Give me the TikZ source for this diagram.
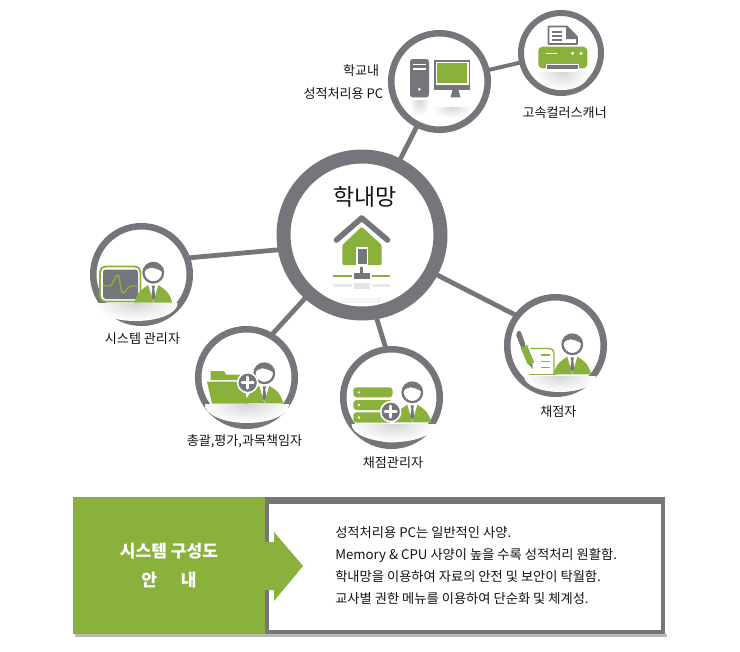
\documentclass[tikz,border=0pt]{standalone}
\usepackage{fontspec}
\setmainfont{Noto Sans CJK KR}
\definecolor{leaf}{RGB}{138,177,60}
\definecolor{ringgray}{RGB}{117,118,123}
\tikzset{
    lab/.style={
        text=black!92, font=\fontsize{9.8}{12}\selectfont, inner sep=0pt
    },
    ring/.style={
        circle, draw=ringgray, fill=white, line width=4.9pt, minimum size=72.4pt, inner sep=0pt
    },
    link/.style={
        draw=ringgray, line width=3.6pt, shorten <=-1pt, shorten >=-1pt
    },
    person/.pic={
        \fill[leaf] (-19,30) .. controls (-16,19) and (-11,16) .. (-5,12.5) -- (0,30) -- (5,12.5)
            .. controls (11,16) and (16,19) .. (19,30) -- cycle;
        \fill[ringgray] (-1.8,13) -- (1.8,13) -- (0.9,16) -- (2,24) -- (0,28) -- (-2,24) -- (-0.9,16) -- cycle;
        \draw[ringgray, line width=1.7pt, fill=white] (0,0) circle (9.8);
        \fill[ringgray] (-9.8,0) arc (180:360:9.8) .. controls (7,-3) and (2,-4.5) .. (-2,-5) .. controls (-5,-5) and (-8,-3) .. cycle;
    },
    plusbadge/.pic={
        \draw[white, line width=1.2pt, fill=ringgray] (0,0) circle (10);
        \draw[white, line width=2.2pt] (-5.5,0) -- (5.5,0) (0,-5.5) -- (0,5.5);
    }
}
% soft reflection: centre x, top y, half width, height
\newcommand{\reflband}[4]{
    \begin{scope}
        \clip (#1-#3,#2) rectangle (#1+#3,#2+#4);
        \shade[inner color=black!16, outer color=white] (#1,#2) ellipse [x radius=#3, y radius=#4];
    \end{scope}
}

\begin{document}
\begin{tikzpicture}[x=0.75pt,y=-0.75pt,line cap=round,line join=round]
    \useasboundingbox (0,0) rectangle (740,651);

% --- circles ---
    \node[ring, line width=10.5pt, minimum size=117.75pt] (hub) at (362,235) {};
    \node[ring] (pcnode) at (439.5,81.5) {};
    \node[ring, line width=4.5pt, minimum size=60pt] (scanner) at (561,53) {};
    \node[ring] (sysadmin) at (141.5,274.5) {};
    \node[ring] (chief) at (246.5,377.5) {};
    \node[ring] (markadmin) at (391.5,397.5) {};
    \node[ring] (marker) at (555.5,345.5) {};

% --- connectors ---
    \draw[link] (hub) -- (pcnode);
    \draw[link, line width=3pt] (pcnode) -- (scanner);
    \draw[link] (hub.190.8) -- (sysadmin.19.8);
    \draw[link] (hub.228.8) -- (chief.59);
    \draw[link] (hub.280) -- (markadmin.97);
    \draw[link] (hub.332) -- (marker.143);

% --- hub: title and house ---
    \node[lab, font=\fontsize{17.2}{20}\selectfont] (hubtitle) at (365,197) {학내망};
    \draw[ringgray, line width=4.2pt] (336.5,240) -- (361.7,218) -- (387.5,240);
    \fill[leaf, rounded corners=1pt] (361.7,226.7) -- (381.7,245) -- (381.7,265) -- (342.3,265) -- (342.3,245) -- cycle;
    \fill[ringgray, draw=white, line width=0.8pt] (357,248) rectangle (367.5,265);
    \draw[leaf, line width=2.2pt, line cap=butt] (333.3,276) -- (351.7,276) (372.3,276) -- (390,276);
    \fill[ringgray] (354,272.7) rectangle (370,279.3);
    \draw[ringgray, line width=2pt, line cap=butt] (361.7,266.5) -- (361.7,273);
    % reflection of the network bar
    \draw[black!9, line width=2.2pt, line cap=butt] (333.3,285.7) -- (351.7,285.7) (372.3,285.7) -- (390,285.7);
    \fill[black!10] (354,282.5) rectangle (370,289);
    \fill[black!4] (341,298) rectangle (381,303);

% --- computer ---
    \fill[ringgray, rounded corners=2pt] (410,59) rectangle (429,97.3);
    \draw[white, line width=0.8pt, line cap=butt] (413,64.3) -- (426,64.3) (413,69) -- (426,69);
    \fill[white] (419.3,89.3) circle (1.4);
    \fill[ringgray] (434.3,60) rectangle (470,90);
    \fill[white] (436,61.5) rectangle (468.5,84.5);
    \fill[leaf] (437.3,62.7) rectangle (466.7,83.3);
    \fill[ringgray] (452.5,90) -- (458.5,90) -- (460.5,97.3) -- (450.5,97.3) -- cycle;
    \reflband{419.5}{100}{11}{17}
    \reflband{452}{107}{20}{11}

% --- scanner ---
    \draw[ringgray, line width=1.3pt, fill=white] (548.5,26.5) -- (567,26.5) -- (577,37) -- (577,44) -- (548.5,44) -- cycle;
    \fill[ringgray] (566,26) -- (578,39) -- (566,39) -- cycle;
    \draw[ringgray, line width=1.2pt, line cap=butt] (552,32) -- (562,32) (552,36) -- (562,36) (552,40) -- (562,40);
    \fill[leaf, rounded corners=3pt] (538.3,46.7) rectangle (587.3,68.3);
    \draw[white, line width=1.2pt, line cap=butt] (545.7,53.3) -- (556.7,53.3);
    \fill[white] (572.7,53.3) circle (1.7) (581,53.3) circle (1.7);
    \fill[white] (546,63.5) rectangle (579,72);
    \fill[ringgray] (547,65) rectangle (578,68.5);
    \reflband{562.5}{72}{27}{18}

% --- system manager ---
    \draw[leaf, line width=1.4pt, fill=white, rounded corners=4pt] (100,266.5) rectangle (140.5,301.5);
    \fill[ringgray, rounded corners=2pt] (103,269.5) rectangle (138,299);
    \draw[leaf, line width=1pt] (103,286) -- (110,286) .. controls (113,286) and (115,274) .. (118,275)
        .. controls (120,276) and (120,292) .. (123,293) .. controls (126,293) and (127,286) .. (132,286) -- (138,286);
    \pic at (153.3,272.7) {person};
    \reflband{135.5}{303.5}{42}{17.5}

% --- chief ---
    \fill[leaf] (210.7,371) -- (224,371) -- (226,374.5) -- (240,374.5) -- (240,380) -- (210.7,380) -- cycle;
    \fill[leaf] (207,381.7) -- (243,381.7) -- (248,403.5) -- (212,403.5) -- cycle;
    \pic at (264.3,373.3) {person};
    \pic at (247.7,382.7) {plusbadge};
    \reflband{247}{404.5}{42}{18.5}

% --- marking manager ---
    \fill[leaf, rounded corners=2.5pt] (353.3,387.3) rectangle (392.7,397.3);
    \fill[leaf, rounded corners=2.5pt] (353.3,400) rectangle (392.7,410);
    \fill[leaf, rounded corners=2.5pt] (353.3,412.3) rectangle (392.7,422.7);
    \fill[white] (359,392.3) circle (1.3) (359,405) circle (1.3) (359,417.5) circle (1.3);
    \pic at (412.3,392.3) {person};
    \pic at (390.7,411.7) {plusbadge};
    \reflband{393.5}{424}{42}{18}

% --- marker ---
    \fill[white] (530,348) rectangle (555,374);
    \draw[leaf, line width=1pt, rounded corners=2pt] (531,348.5) -- (551,348.5) -- (554,351) -- (554,374);
    \draw[leaf, line width=1.1pt, line cap=butt] (541,355) -- (550,355) (541,361.5) -- (550,361.5) (541,367.5) -- (550,367.5);
    \draw[leaf, line width=1.3pt, line cap=butt] (529,374.5) -- (556,374.5);
    \fill[ringgray, rounded corners=2pt] (515.5,333.5) -- (520,329.5) -- (526,346) -- (521.5,348.5) -- cycle;
    \fill[leaf] (520.5,347.5) -- (527,345) -- (534,362) -- (531,366) -- (527.5,364) -- cycle;
    \fill[ringgray] (529,364.5) -- (532,364) -- (533,369) -- cycle;
    \pic at (572.3,344.3) {person};
    \reflband{560}{376}{36}{16}

% --- labels ---
    \node[lab, anchor=east] (pclaba) at (379.5,70.7) {학교내};
    \node[lab, anchor=east] (pclabb) at (383.5,93.3) {성적처리용 PC};
    \node[lab] (scannerlab) at (564.7,113) {고속컬러스캐너};
    \node[lab] (sysadminlab) at (142.5,339) {시스템 관리자};
    \node[lab] (chieflab) at (244.5,441.7) {총괄,평가,과목책임자};
    \node[lab] (markadminlab) at (393,462.7) {채점관리자};
    \node[lab] (markerlab) at (558.3,411.7) {채점자};

% --- guide panel ---
    \fill[black!28] (75,634) rectangle (667,636.5);
    \fill[ringgray] (265,497) rectangle (665,634);
    \fill[white] (269,504) rectangle (661,630);
    \node[fill=leaf, minimum width=144pt, minimum height=102.75pt, inner sep=0pt, text=white, align=center,
        font=\fontsize{12.8}{21.5}\selectfont\bfseries] (guidebox) at (169,565.5) {시스템 구성도\\안\hspace{1.4em}내};
    \fill[leaf] (264,542) -- (274,542) -- (274,532) -- (303,566) -- (274,601) -- (274,590) -- (264,590) -- cycle;
    \node[lab, anchor=west, align=left, font=\fontsize{9.95}{16.7}\selectfont] (guidetext) at (335,565.5)
        {성적처리용 PC는 일반적인 사양.\\Memory \& CPU 사양이 높을 수록 성적처리 원활함.\\학내망을 이용하여 자료의 안전 및 보안이 탁월함.\\교사별 권한 메뉴를 이용하여 단순화 및 체계성.};

\end{tikzpicture}
\end{document}
